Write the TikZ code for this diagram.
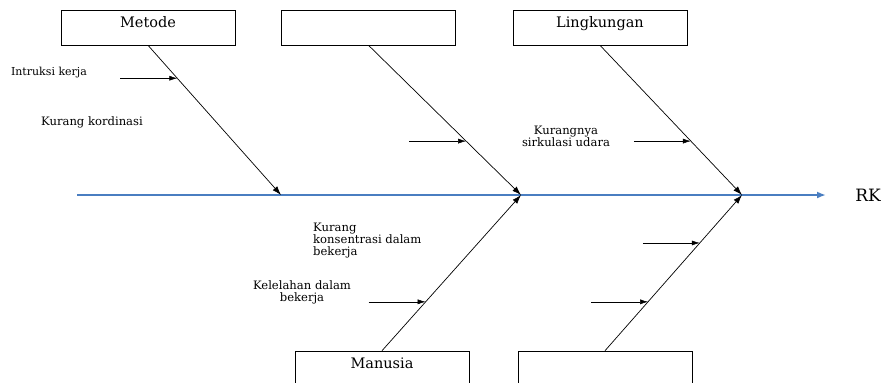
\documentclass[tikz,border=0pt]{standalone}
\usepackage{fontspec}
\setmainfont{DejaVu Serif}
\usetikzlibrary{calc,arrows.meta}
\definecolor{spineblue}{RGB}{74,126,193}
\tikzset{
	catbox/.style={draw,line width=0.6pt,minimum width=174pt,minimum height=35pt,text depth=11pt,inner sep=0pt,font=\fontsize{14.5}{16}\selectfont},
	bone/.style={line width=0.7pt,-{Latex[length=9pt,width=6pt]}},
	cause/.style={line width=0.5pt,-{Latex[length=8pt,width=5pt]}},
	lbl/.style={font=\fontsize{11.6}{12}\selectfont,inner sep=0pt}
}
\begin{document}
\begin{tikzpicture}[x=1pt,y=-1pt]
\useasboundingbox (0,0) rectangle (887,383);
\clip (0,0) rectangle (887,383);
% kotak penyebab
\node (metode) [catbox] at (148,27.5) {Metode};
\node (kosong1) [catbox] at (368.5,27.5) {};
\node (lingkungan) [catbox] at (600,27.5) {Lingkungan};
\node (manusia) [catbox] at (382,368.5) {Manusia};
\node (kosong2) [catbox] at (605,368.5) {};
% tulang utama
\coordinate (ekor) at (77,195);
\coordinate (kepala) at (826,195);
\coordinate (j1) at (281,195);
\coordinate (j2) at (521,195);
\coordinate (j3) at (742,195);
\draw[line width=1.8pt,spineblue,-{Latex[length=9pt,width=7pt]}] (ekor) -- (kepala);
\node (rk) [font=\fontsize{17}{18}\selectfont] at (868,195) {RK};
% tulang cabang
\draw[bone] (metode.south) -- (j1);
\draw[bone] (kosong1.south) -- (j2);
\draw[bone] (lingkungan.south) -- (j3);
\draw[bone] (manusia.north) -- (j2);
\draw[bone] (kosong2.north) -- (j3);
\foreach \a/\b/\t in {metode.south/j1/0.22,kosong1.south/j2/0.64,lingkungan.south/j3/0.64,manusia.north/j2/0.314,kosong2.north/j3/0.692,kosong2.north/j3/0.314}{
	\draw[cause] ([xshift=-57pt]$(\a)!\t!(\b)$) -- ($(\a)!\t!(\b)$);
}
% keterangan
\node (intruksi) [lbl,font=\fontsize{11}{12}\selectfont] at (49,73) {Intruksi kerja};
\node (kordinasi) [lbl] at (92,122) {Kurang kordinasi};
\node (sirkulasi) [lbl,align=center] at (566,136) {Kurangnya\\sirkulasi udara};
\node (konsentrasi) [lbl,align=left,anchor=north west] at (313,223) {Kurang\\konsentrasi dalam\\bekerja};
\node (kelelahan) [lbl,align=center] at (302,292) {Kelelahan dalam\\bekerja};
\end{tikzpicture}
\end{document}
